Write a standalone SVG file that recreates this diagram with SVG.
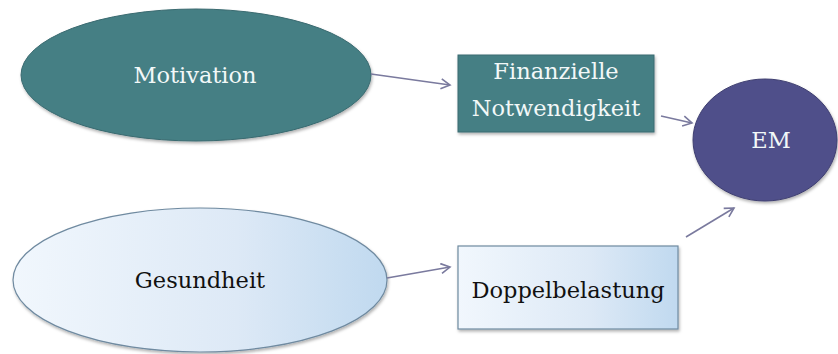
<svg xmlns="http://www.w3.org/2000/svg" width="838" height="354" viewBox="0 0 838 354">
<defs>
<linearGradient id="lb" x1="0" y1="0" x2="1" y2="0">
<stop offset="0" stop-color="#f1f7fd"/>
<stop offset="0.6" stop-color="#dde9f6"/>
<stop offset="1" stop-color="#c0d9ef"/>
</linearGradient>
<filter id="sh" x="-10%" y="-10%" width="120%" height="130%">
<feDropShadow dx="1" dy="2" stdDeviation="1.5" flood-color="#000" flood-opacity="0.3"/>
</filter>
<marker id="ah" markerWidth="12" markerHeight="12" refX="10" refY="6" orient="auto" markerUnits="userSpaceOnUse">
<path d="M1,1 L10,6 L1,11" fill="none" stroke="#7a7a9e" stroke-width="1.6"/>
</marker>
<style>
.teal{fill:#457f84;stroke:#3a6a70;stroke-width:1}
.light{fill:url(#lb);stroke:#6f8aa0;stroke-width:1.2}
.em{fill:#4f4f8a;stroke:#3f3f70;stroke-width:1}
.tw{font-family:"DejaVu Serif","Liberation Serif",serif;font-size:22.5px;fill:#f2f8f8;text-anchor:middle}
.tb{font-family:"DejaVu Serif","Liberation Serif",serif;font-size:22.5px;fill:#111;text-anchor:middle}
.c{stroke:#7a7a9e;stroke-width:1.6;fill:none;marker-end:url(#ah)}
</style>
</defs>
<g id="motivation">
<ellipse class="teal" cx="196" cy="75" rx="175" ry="66" filter="url(#sh)"/>
<text class="tw" x="195" y="83">Motivation</text>
</g>
<g id="gesundheit">
<ellipse class="light" cx="200" cy="280" rx="187" ry="72" filter="url(#sh)"/>
<text class="tb" x="200" y="288">Gesundheit</text>
</g>
<g id="finanzielle">
<rect class="teal" x="458" y="55" width="196" height="77" filter="url(#sh)"/>
<text class="tw" x="556" y="79">Finanzielle</text>
<text class="tw" x="556" y="116">Notwendigkeit</text>
</g>
<g id="doppelbelastung">
<rect class="light" x="458" y="246" width="220" height="83" filter="url(#sh)"/>
<text class="tb" x="568" y="298">Doppelbelastung</text>
</g>
<g id="em">
<ellipse class="em" cx="765" cy="140" rx="72" ry="61" filter="url(#sh)"/>
<text class="tw" x="771" y="148">EM</text>
</g>
<g id="connectors">
<line class="c" x1="371" y1="74" x2="450" y2="85"/>
<line class="c" x1="661" y1="116" x2="692" y2="123"/>
<line class="c" x1="387" y1="278" x2="450" y2="267"/>
<line class="c" x1="686" y1="237" x2="734" y2="208"/>
</g>
</svg>
